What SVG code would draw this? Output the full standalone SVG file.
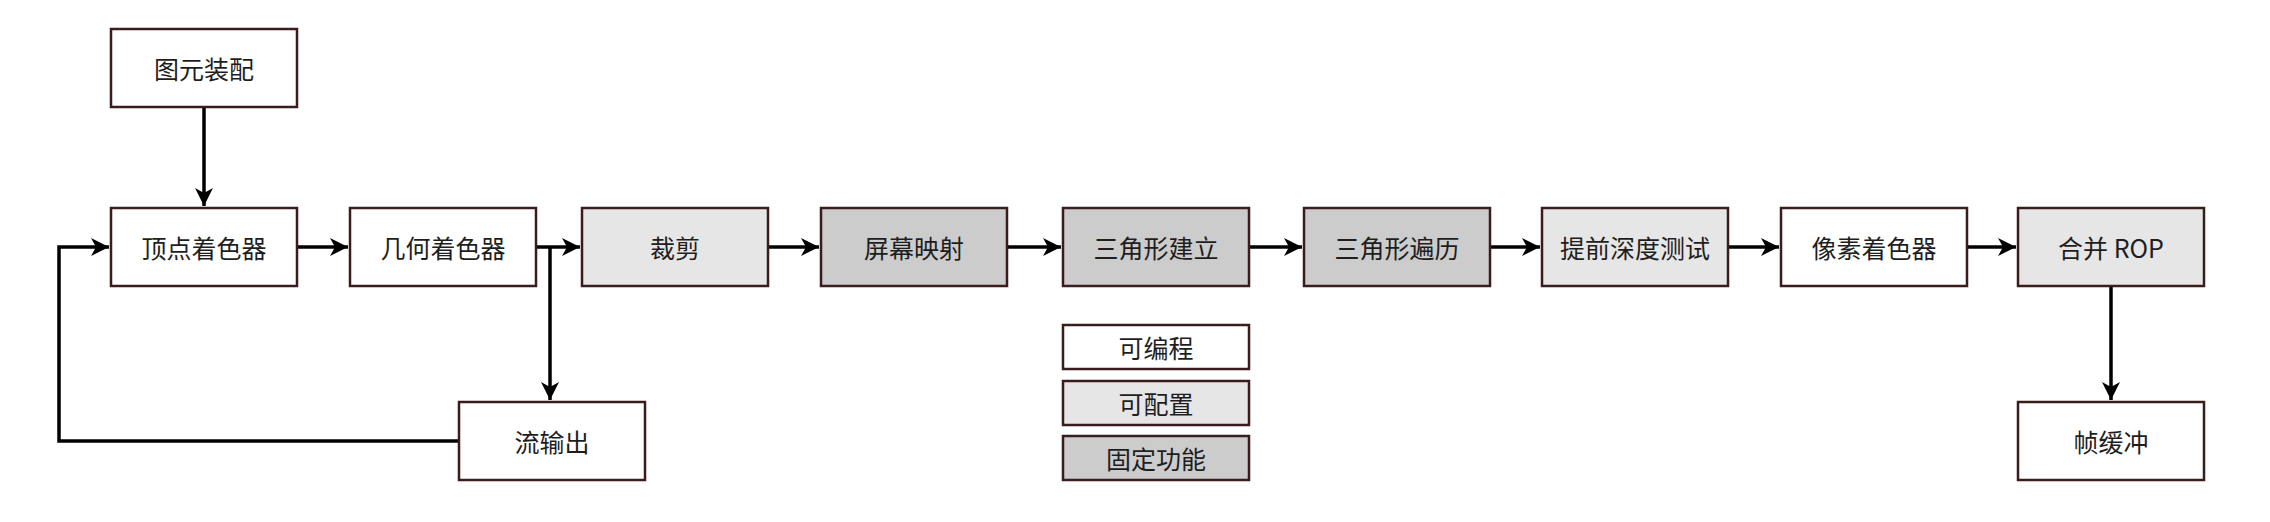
<svg xmlns="http://www.w3.org/2000/svg" width="2270" height="522" viewBox="0 0 2270 522">
<style>
.box{stroke:#3a1c1c;stroke-width:2.5}
.w{fill:#ffffff}
.c{fill:#e6e6e6}
.f{fill:#cccccc}
.t{font-family:"Noto Sans CJK SC","Noto Sans",sans-serif;font-size:25px;fill:#1e1e1e;text-anchor:middle;dominant-baseline:central}
.e{fill:none;stroke:#000;stroke-width:3.5}
</style>
<defs>
<marker id="arr" markerUnits="userSpaceOnUse" markerWidth="20" markerHeight="20" refX="18" refY="9" orient="auto">
<path d="M0,0 L18,9 L0,18 L5,9 Z" fill="#000"/>
</marker>
</defs>
<rect width="2270" height="522" fill="#ffffff"/>
<g id="connectors">
<path class="e" d="M204,107 L204,206" marker-end="url(#arr)"/>
<path class="e" d="M297,247 L348,247" marker-end="url(#arr)"/>
<path class="e" d="M536,247 L580,247" marker-end="url(#arr)"/>
<path class="e" d="M550,247 L550,400" marker-end="url(#arr)"/>
<path class="e" d="M459,441 L59,441 L59,247 L109,247" marker-end="url(#arr)"/>
<path class="e" d="M768,247 L819,247" marker-end="url(#arr)"/>
<path class="e" d="M1007,247 L1061,247" marker-end="url(#arr)"/>
<path class="e" d="M1249,247 L1302,247" marker-end="url(#arr)"/>
<path class="e" d="M1490,247 L1540,247" marker-end="url(#arr)"/>
<path class="e" d="M1728,247 L1779,247" marker-end="url(#arr)"/>
<path class="e" d="M1967,247 L2016,247" marker-end="url(#arr)"/>
<path class="e" d="M2111,286 L2111,400" marker-end="url(#arr)"/>
</g>
<g id="n-primitive"><rect class="box w" x="111" y="29" width="186" height="78"/><text class="t" x="204" y="68">图元装配</text></g>
<g id="n-vertex"><rect class="box w" x="111" y="208" width="186" height="78"/><text class="t" x="204" y="247">顶点着色器</text></g>
<g id="n-geometry"><rect class="box w" x="350" y="208" width="186" height="78"/><text class="t" x="443" y="247">几何着色器</text></g>
<g id="n-clip"><rect class="box c" x="582" y="208" width="186" height="78"/><text class="t" x="675" y="247">裁剪</text></g>
<g id="n-screen"><rect class="box f" x="821" y="208" width="186" height="78"/><text class="t" x="914" y="247">屏幕映射</text></g>
<g id="n-tri-setup"><rect class="box f" x="1063" y="208" width="186" height="78"/><text class="t" x="1156" y="247">三角形建立</text></g>
<g id="n-tri-trav"><rect class="box f" x="1304" y="208" width="186" height="78"/><text class="t" x="1397" y="247">三角形遍历</text></g>
<g id="n-early-z"><rect class="box c" x="1542" y="208" width="186" height="78"/><text class="t" x="1635" y="247">提前深度测试</text></g>
<g id="n-pixel"><rect class="box w" x="1781" y="208" width="186" height="78"/><text class="t" x="1874" y="247">像素着色器</text></g>
<g id="n-rop"><rect class="box c" x="2018" y="208" width="186" height="78"/><text class="t" x="2111" y="247">合并 ROP</text></g>
<g id="n-framebuffer"><rect class="box w" x="2018" y="402" width="186" height="78"/><text class="t" x="2111" y="441">帧缓冲</text></g>
<g id="n-stream-out"><rect class="box w" x="459" y="402" width="186" height="78"/><text class="t" x="552" y="441">流输出</text></g>
<g id="legend-programmable"><rect class="box w" x="1063" y="325" width="186" height="44"/><text class="t" x="1156" y="347">可编程</text></g>
<g id="legend-configurable"><rect class="box c" x="1063" y="381" width="186" height="44"/><text class="t" x="1156" y="403">可配置</text></g>
<g id="legend-fixed"><rect class="box f" x="1063" y="436" width="186" height="44"/><text class="t" x="1156" y="458">固定功能</text></g>
</svg>
